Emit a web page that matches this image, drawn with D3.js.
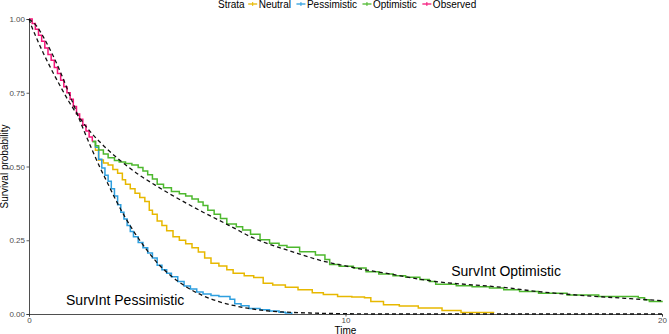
<!DOCTYPE html>
<html>
<head>
<meta charset="utf-8">
<script src="https://cdn.jsdelivr.net/npm/d3@7"></script>
<style>
  html, body { margin: 0; padding: 0; background: #fff; }
  svg { display: block; font-family: "Liberation Sans", Arial, sans-serif; }
</style>
</head>
<body>
<div id="chart"></div>
<script>
/* DATA */
const strata = ["Neutral", "Pessimistic", "Optimistic", "Observed"];
const strataColors = ["#E7B800", "#2E9FDF", "#4DB82E", "#F5177A"];

// Kaplan-Meier steps: [time, survival]
const observed = [
  [0, 1.0], [0.1, 0.985], [0.2, 0.965], [0.3, 0.945], [0.4, 0.925], [0.5, 0.902],
  [0.6, 0.880], [0.7, 0.860], [0.8, 0.836], [0.9, 0.815], [1.0, 0.792], [1.1, 0.770],
  [1.2, 0.750], [1.3, 0.728], [1.4, 0.703], [1.5, 0.678], [1.6, 0.660], [1.7, 0.640],
  [1.8, 0.620], [1.9, 0.600], [2.0, 0.585]
];
const pessimistic = [
  [2.0, 0.585], [2.1, 0.565], [2.2, 0.525], [2.3, 0.495], [2.4, 0.470], [2.5, 0.450],
  [2.6, 0.425], [2.7, 0.400], [2.8, 0.370], [2.9, 0.345], [3.0, 0.322], [3.1, 0.300],
  [3.2, 0.280], [3.3, 0.262], [3.45, 0.242], [3.6, 0.225], [3.75, 0.207], [3.9, 0.190],
  [4.05, 0.165], [4.2, 0.150], [4.35, 0.138], [4.5, 0.126], [4.7, 0.110], [4.9, 0.095],
  [5.1, 0.085], [5.3, 0.075], [5.5, 0.068], [5.75, 0.063], [6.0, 0.059], [6.35, 0.050],
  [6.5, 0.035], [6.7, 0.028], [6.95, 0.019], [7.3, 0.014], [7.6, 0.010], [7.9, 0.006],
  [8.1, 0.003], [8.3, 0.0]
];
const neutral = [
  [2.0, 0.585], [2.1, 0.555], [2.2, 0.522], [2.35, 0.512], [2.5, 0.505], [2.65, 0.490],
  [2.8, 0.477], [2.95, 0.455], [3.05, 0.440], [3.2, 0.425], [3.35, 0.409], [3.5, 0.395],
  [3.66, 0.381], [3.8, 0.352], [3.9, 0.338], [4.05, 0.315], [4.2, 0.300], [4.35, 0.282],
  [4.55, 0.262], [4.75, 0.250], [4.95, 0.238], [5.15, 0.225], [5.35, 0.210], [5.55, 0.190],
  [5.75, 0.172], [6.0, 0.163], [6.25, 0.150], [6.45, 0.138], [6.8, 0.130], [7.1, 0.124],
  [7.4, 0.104], [7.7, 0.098], [8.1, 0.091], [8.5, 0.082], [8.95, 0.072], [9.3, 0.066],
  [9.75, 0.059], [10.2, 0.058], [10.6, 0.055], [10.8, 0.042], [11.2, 0.031], [11.7, 0.027],
  [12.3, 0.020], [13.05, 0.012], [13.65, 0.005], [14.7, 0.005]
];
const optimistic = [
  [2.0, 0.585], [2.1, 0.570], [2.2, 0.556], [2.35, 0.542], [2.5, 0.530], [2.7, 0.520],
  [2.85, 0.515], [3.05, 0.510], [3.25, 0.505], [3.45, 0.497], [3.6, 0.485], [3.75, 0.472],
  [3.9, 0.458], [4.05, 0.440], [4.25, 0.428], [4.5, 0.415], [4.75, 0.408], [4.95, 0.400],
  [5.15, 0.390], [5.35, 0.380], [5.5, 0.368], [5.65, 0.352], [5.85, 0.338], [6.05, 0.324],
  [6.25, 0.305], [6.55, 0.296], [6.75, 0.285], [7.0, 0.270], [7.3, 0.252], [7.6, 0.240],
  [7.9, 0.232], [8.15, 0.226], [8.55, 0.211], [9.05, 0.200], [9.35, 0.185], [9.5, 0.168],
  [9.8, 0.162], [10.25, 0.156], [10.65, 0.143], [11.05, 0.136], [11.5, 0.130], [11.9, 0.125],
  [12.35, 0.117], [12.65, 0.110], [12.85, 0.101], [13.5, 0.096], [14.0, 0.092], [14.55, 0.088],
  [15.0, 0.082], [15.5, 0.076], [16.1, 0.070], [17.0, 0.064], [18.0, 0.059], [19.25, 0.055],
  [19.45, 0.048], [19.6, 0.042], [20.0, 0.040]
];

// fitted survival curves (dashed)
const fitPessimistic = [
  [0, 1.0], [0.25, 0.975], [0.5, 0.930], [0.75, 0.878], [1.0, 0.818], [1.25, 0.752],
  [1.5, 0.685], [1.75, 0.618], [2.0, 0.555], [2.25, 0.495], [2.5, 0.440], [2.75, 0.385],
  [3.0, 0.335], [3.25, 0.290], [3.5, 0.250], [3.75, 0.213], [4.0, 0.180], [4.5, 0.128],
  [5.0, 0.090], [5.5, 0.062], [6.0, 0.042], [6.5, 0.028], [7.0, 0.018], [7.5, 0.011],
  [8.0, 0.007], [9.0, 0.003], [10.0, 0.001], [11.0, 0.0], [20.0, 0.0]
];
const fitOptimistic = [
  [0, 1.0], [0.1, 0.970], [0.2, 0.945], [0.3, 0.920], [0.45, 0.885], [0.6, 0.852],
  [0.8, 0.810], [1.0, 0.770], [1.25, 0.722], [1.5, 0.680], [1.75, 0.643], [2.0, 0.610],
  [2.25, 0.582], [2.5, 0.556], [2.75, 0.532], [3.0, 0.510], [3.5, 0.470], [4.0, 0.436],
  [4.5, 0.404], [5.0, 0.374], [5.5, 0.345], [6.0, 0.318], [6.5, 0.290], [7.0, 0.262],
  [7.5, 0.240], [8.0, 0.222], [8.5, 0.205], [9.0, 0.188], [9.5, 0.174], [10.0, 0.163],
  [10.5, 0.152], [11.0, 0.143], [11.5, 0.134], [12.0, 0.124], [13.0, 0.108], [14.0, 0.099],
  [15.0, 0.090], [16.0, 0.077], [17.0, 0.067], [18.0, 0.059], [19.0, 0.052], [20.0, 0.045]
];

const xTicks = [0, 10, 20];
const yTicks = [0, 0.25, 0.5, 0.75, 1];
const annotations = [
  { label: "SurvInt Pessimistic", t: 1.17, s: 0.03 },
  { label: "SurvInt Optimistic", t: 13.34, s: 0.128 }
];

/* CONSTANTS */
const width = 669,
  height = 334,
  margin = { top: 19, bottom: 20, left: 29, right: 7 };

let svg, xScale, yScale;

function init() {
  svg = d3.select("#chart").append("svg")
    .attr("width", width)
    .attr("height", height);

  xScale = d3.scaleLinear()
    .domain([0, 20])
    .range([margin.left, width - margin.right]);

  yScale = d3.scaleLinear()
    .domain([0, 1])
    .range([height - margin.bottom, margin.top]);

  // axes
  const xAxis = d3.axisBottom(xScale).tickValues(xTicks).tickSize(2.5).tickPadding(0.5)
    .tickFormat(d3.format("d"));
  const yAxis = d3.axisLeft(yScale).tickValues(yTicks).tickSize(2.5).tickPadding(1.5)
    .tickFormat(d3.format(".2f"));

  const gx = svg.append("g")
    .attr("transform", `translate(0,${height - margin.bottom})`)
    .call(xAxis);
  const gy = svg.append("g")
    .attr("transform", `translate(${margin.left},0)`)
    .call(yAxis);

  [gx, gy].forEach(g => {
    g.select(".domain").attr("stroke", "#222").attr("stroke-width", 0.8);
    g.selectAll(".tick line").attr("stroke", "#333").attr("stroke-width", 0.8);
    g.selectAll(".tick text")
      .attr("fill", "#4D4D4D")
      .style("font-size", "8px")
      .style("font-family", "'Liberation Sans', Arial, sans-serif");
  });

  svg.append("text")
    .attr("x", (xScale(0) + xScale(20)) / 2)
    .attr("y", 333.5)
    .attr("text-anchor", "middle")
    .style("font-size", "10px")
    .text("Time");

  svg.append("text")
    .attr("transform", `translate(8,${(yScale(0) + yScale(1)) / 2}) rotate(-90)`)
    .attr("text-anchor", "middle")
    .style("font-size", "10px")
    .text("Survival probability");

  // survival steps
  const step = d3.line()
    .x(d => xScale(d[0]))
    .y(d => yScale(d[1]))
    .curve(d3.curveStepAfter);

  const curves = [neutral, pessimistic, optimistic, observed];
  svg.append("g").selectAll("path")
    .data(curves)
    .join("path")
    .attr("d", step)
    .attr("fill", "none")
    .attr("stroke", (d, i) => strataColors[i])
    .attr("stroke-width", 1.5);

  // fitted curves
  const smooth = d3.line()
    .x(d => xScale(d[0]))
    .y(d => yScale(d[1]))
    .curve(d3.curveMonotoneX);

  svg.append("g").selectAll("path")
    .data([fitPessimistic, fitOptimistic])
    .join("path")
    .attr("d", smooth)
    .attr("fill", "none")
    .attr("stroke", "#111")
    .attr("stroke-width", 1.3)
    .attr("stroke-dasharray", "4,3");

  // annotations
  svg.append("g").selectAll("text")
    .data(annotations)
    .join("text")
    .attr("x", d => xScale(d.t))
    .attr("y", d => yScale(d.s))
    .style("font-size", "14px")
    .attr("fill", "#000")
    .text(d => d.label);

  // legend
  const legend = svg.append("g").attr("transform", "translate(218,7.5)");
  const title = legend.append("text")
    .attr("x", 0).attr("y", 0)
    .style("font-size", "10px")
    .text("Strata");
  let xPos = title.node().getComputedTextLength() + 3.5;
  strata.forEach((name, i) => {
    const key = legend.append("g").attr("transform", `translate(${xPos + 4.5},-3.5)`);
    key.append("line").attr("x1", -4.5).attr("x2", 4.5)
      .attr("stroke", strataColors[i]).attr("stroke-width", 1.3);
    key.append("line").attr("y1", -2).attr("y2", 2)
      .attr("stroke", strataColors[i]).attr("stroke-width", 1);
    const txt = legend.append("text")
      .attr("x", xPos + 10.5).attr("y", 0)
      .style("font-size", "10px")
      .text(name);
    xPos += 10.5 + txt.node().getComputedTextLength() + 5.5;
  });
}

init();
</script>
</body>
</html>
